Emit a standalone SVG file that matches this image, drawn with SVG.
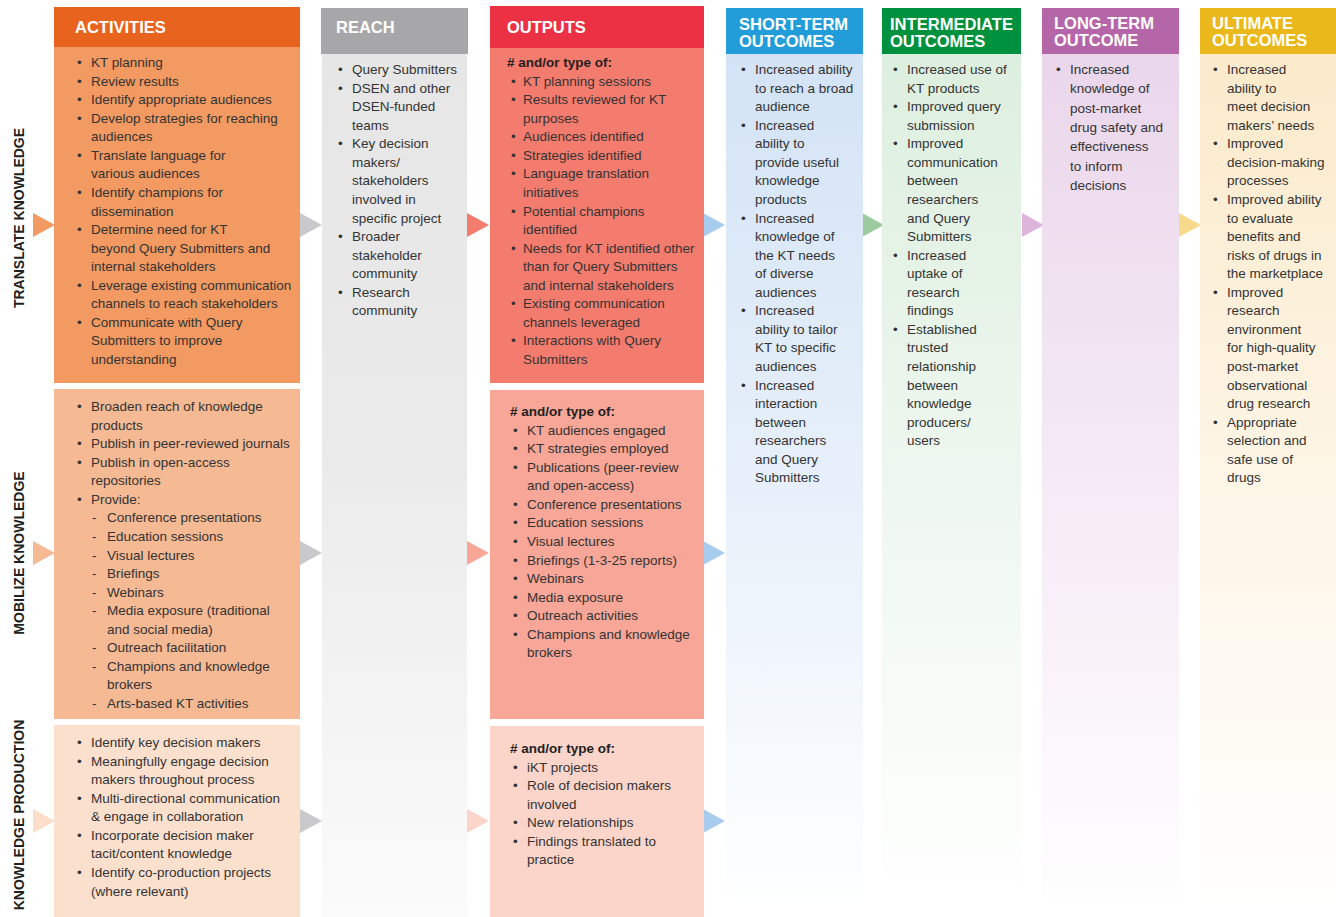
<svg xmlns="http://www.w3.org/2000/svg" width="1336" height="917" viewBox="0 0 1336 917">
<defs>
<style>
.hd{font-family:"Liberation Sans",Arial,sans-serif;font-weight:bold;font-size:16.5px;fill:#fff}
.t{font-family:"Liberation Sans",Arial,sans-serif;font-size:13.5px;fill:#333}
.b{font-family:"Liberation Sans",Arial,sans-serif;font-size:13.5px;font-weight:bold;fill:#231f20}
.rl{font-family:"Liberation Sans",Arial,sans-serif;font-size:14px;font-weight:bold;fill:#231f20}
</style>
<linearGradient id="gReach" x1="0" y1="0" x2="0" y2="1"><stop offset="0" stop-color="#E6E6E6"/><stop offset="0.45" stop-color="#EAEAEA"/><stop offset="1" stop-color="#FBFBFB"/></linearGradient>
<linearGradient id="gBlue" x1="0" y1="0" x2="0" y2="1"><stop offset="0" stop-color="#D3E3F5"/><stop offset="0.5" stop-color="#E7F0FA"/><stop offset="1" stop-color="#FFFFFF"/></linearGradient>
<linearGradient id="gGreen" x1="0" y1="0" x2="0" y2="1"><stop offset="0" stop-color="#DDEFDF"/><stop offset="0.5" stop-color="#EEF7EF"/><stop offset="1" stop-color="#FFFFFF"/></linearGradient>
<linearGradient id="gPurple" x1="0" y1="0" x2="0" y2="1"><stop offset="0" stop-color="#EAD6EB"/><stop offset="0.5" stop-color="#F5EAF5"/><stop offset="1" stop-color="#FFFFFF"/></linearGradient>
<linearGradient id="gYellow" x1="0" y1="0" x2="0" y2="1"><stop offset="0" stop-color="#FBEACB"/><stop offset="0.5" stop-color="#FDF5E6"/><stop offset="1" stop-color="#FFFFFF"/></linearGradient>
</defs>
<rect width="1336" height="917" fill="#fff"/>

<g id="row-labels">
<text class="rl" transform="translate(24,218) rotate(-90)" text-anchor="middle">TRANSLATE KNOWLEDGE</text>
<text class="rl" transform="translate(24,553) rotate(-90)" text-anchor="middle">MOBILIZE KNOWLEDGE</text>
<text class="rl" transform="translate(24,815) rotate(-90)" text-anchor="middle">KNOWLEDGE PRODUCTION</text>
</g>

<g id="connectors">
<polygon points="33,213 55,225 33,237" fill="#F29A61"/>
<polygon points="33,541 55,553 33,565" fill="#F5B993"/>
<polygon points="33,809 55,821 33,833" fill="#FBDDC9"/>
<polygon points="300,213 322,225 300,237" fill="#C9C9CB"/>
<polygon points="300,541 322,553 300,565" fill="#C9C9CB"/>
<polygon points="300,809 322,821 300,833" fill="#C9C9CB"/>
<polygon points="467,213 489,225 467,237" fill="#F47C6E"/>
<polygon points="467,541 489,553 467,565" fill="#F7A697"/>
<polygon points="467,809 489,821 467,833" fill="#FBD4CA"/>
<polygon points="703,213 725,225 703,237" fill="#A8CCEE"/>
<polygon points="703,541 725,553 703,565" fill="#A8CCEE"/>
<polygon points="703,809 725,821 703,833" fill="#A8CCEE"/>
<polygon points="862,213 884,225 862,237" fill="#9DCB9F"/>
<polygon points="1022,213 1044,225 1022,237" fill="#DDB5DC"/>
<polygon points="1179,213 1201,225 1179,237" fill="#F7DA8C"/>
</g>

<g id="activities">
<rect x="54" y="7" width="246" height="40" fill="#E8641E"/>
<text class="hd" x="75" y="33">ACTIVITIES</text>
</g>

<g id="activities-translate">
<rect x="54" y="47" width="246" height="336" fill="#F29A61"/>
<text class="t">
<tspan x="77" y="67">•</tspan><tspan x="91" y="67">KT planning</tspan>
<tspan x="77" y="85.6">•</tspan><tspan x="91" y="85.6">Review results</tspan>
<tspan x="77" y="104.1">•</tspan><tspan x="91" y="104.1">Identify appropriate audiences</tspan>
<tspan x="77" y="122.7">•</tspan><tspan x="91" y="122.7">Develop strategies for reaching</tspan>
<tspan x="91" y="141.2">audiences</tspan>
<tspan x="77" y="159.8">•</tspan><tspan x="91" y="159.8">Translate language for</tspan>
<tspan x="91" y="178.4">various audiences</tspan>
<tspan x="77" y="196.9">•</tspan><tspan x="91" y="196.9">Identify champions for</tspan>
<tspan x="91" y="215.5">dissemination</tspan>
<tspan x="77" y="234">•</tspan><tspan x="91" y="234">Determine need for KT</tspan>
<tspan x="91" y="252.6">beyond Query Submitters and</tspan>
<tspan x="91" y="271.2">internal stakeholders</tspan>
<tspan x="77" y="289.7">•</tspan><tspan x="91" y="289.7">Leverage existing communication</tspan>
<tspan x="91" y="308.3">channels to reach stakeholders</tspan>
<tspan x="77" y="326.8">•</tspan><tspan x="91" y="326.8">Communicate with Query</tspan>
<tspan x="91" y="345.4">Submitters to improve</tspan>
<tspan x="91" y="364">understanding</tspan>
</text>
</g>

<g id="activities-mobilize">
<rect x="54" y="389" width="246" height="330" fill="#F5B993"/>
<text class="t">
<tspan x="77" y="411">•</tspan><tspan x="91" y="411">Broaden reach of knowledge</tspan>
<tspan x="91" y="429.6">products</tspan>
<tspan x="77" y="448.1">•</tspan><tspan x="91" y="448.1">Publish in peer-reviewed journals</tspan>
<tspan x="77" y="466.7">•</tspan><tspan x="91" y="466.7">Publish in open-access</tspan>
<tspan x="91" y="485.2">repositories</tspan>
<tspan x="77" y="503.8">•</tspan><tspan x="91" y="503.8">Provide:</tspan>
<tspan x="92" y="522.4">-</tspan><tspan x="107" y="522.4">Conference presentations</tspan>
<tspan x="92" y="540.9">-</tspan><tspan x="107" y="540.9">Education sessions</tspan>
<tspan x="92" y="559.5">-</tspan><tspan x="107" y="559.5">Visual lectures</tspan>
<tspan x="92" y="578">-</tspan><tspan x="107" y="578">Briefings</tspan>
<tspan x="92" y="596.6">-</tspan><tspan x="107" y="596.6">Webinars</tspan>
<tspan x="92" y="615.2">-</tspan><tspan x="107" y="615.2">Media exposure (traditional</tspan>
<tspan x="107" y="633.7">and social media)</tspan>
<tspan x="92" y="652.3">-</tspan><tspan x="107" y="652.3">Outreach facilitation</tspan>
<tspan x="92" y="670.8">-</tspan><tspan x="107" y="670.8">Champions and knowledge</tspan>
<tspan x="107" y="689.4">brokers</tspan>
<tspan x="92" y="708">-</tspan><tspan x="107" y="708">Arts-based KT activities</tspan>
</text>
</g>

<g id="activities-production">
<rect x="54" y="725" width="246" height="192" fill="#FCE0CE"/>
<text class="t">
<tspan x="77" y="747">•</tspan><tspan x="91" y="747">Identify key decision makers</tspan>
<tspan x="77" y="765.6">•</tspan><tspan x="91" y="765.6">Meaningfully engage decision</tspan>
<tspan x="91" y="784.1">makers throughout process</tspan>
<tspan x="77" y="802.7">•</tspan><tspan x="91" y="802.7">Multi-directional communication</tspan>
<tspan x="91" y="821.2">&amp; engage in collaboration</tspan>
<tspan x="77" y="839.8">•</tspan><tspan x="91" y="839.8">Incorporate decision maker</tspan>
<tspan x="91" y="858.4">tacit/content knowledge</tspan>
<tspan x="77" y="876.9">•</tspan><tspan x="91" y="876.9">Identify co-production projects</tspan>
<tspan x="91" y="895.5">(where relevant)</tspan>
</text>
</g>

<g id="reach">
<rect x="322" y="54" width="145" height="863" fill="url(#gReach)"/>
<rect x="321" y="8" width="147" height="46" fill="#A7A7A9"/>
<text class="hd" x="336" y="33">REACH</text>
<text class="t">
<tspan x="338" y="74">•</tspan><tspan x="352" y="74">Query Submitters</tspan>
<tspan x="338" y="92.6">•</tspan><tspan x="352" y="92.6">DSEN and other</tspan>
<tspan x="352" y="111.1">DSEN-funded</tspan>
<tspan x="352" y="129.7">teams</tspan>
<tspan x="338" y="148.2">•</tspan><tspan x="352" y="148.2">Key decision</tspan>
<tspan x="352" y="166.8">makers/</tspan>
<tspan x="352" y="185.4">stakeholders</tspan>
<tspan x="352" y="203.9">involved in</tspan>
<tspan x="352" y="222.5">specific project</tspan>
<tspan x="338" y="241">•</tspan><tspan x="352" y="241">Broader</tspan>
<tspan x="352" y="259.6">stakeholder</tspan>
<tspan x="352" y="278.2">community</tspan>
<tspan x="338" y="296.7">•</tspan><tspan x="352" y="296.7">Research</tspan>
<tspan x="352" y="315.3">community</tspan>
</text>
</g>

<g id="outputs">
<rect x="490" y="6" width="214" height="42" fill="#EC3145"/>
<text class="hd" x="507" y="33">OUTPUTS</text>
</g>

<g id="outputs-translate">
<rect x="490" y="48" width="214" height="335" fill="#F47C6E"/>
<text class="b" x="507" y="67"># and/or type of:</text>
<text class="t">
<tspan x="511" y="85.6">•</tspan><tspan x="523" y="85.6">KT planning sessions</tspan>
<tspan x="511" y="104.1">•</tspan><tspan x="523" y="104.1">Results reviewed for KT</tspan>
<tspan x="523" y="122.7">purposes</tspan>
<tspan x="511" y="141.2">•</tspan><tspan x="523" y="141.2">Audiences identified</tspan>
<tspan x="511" y="159.8">•</tspan><tspan x="523" y="159.8">Strategies identified</tspan>
<tspan x="511" y="178.4">•</tspan><tspan x="523" y="178.4">Language translation</tspan>
<tspan x="523" y="196.9">initiatives</tspan>
<tspan x="511" y="215.5">•</tspan><tspan x="523" y="215.5">Potential champions</tspan>
<tspan x="523" y="234">identified</tspan>
<tspan x="511" y="252.6">•</tspan><tspan x="523" y="252.6">Needs for KT identified other</tspan>
<tspan x="523" y="271.2">than for Query Submitters</tspan>
<tspan x="523" y="289.7">and internal stakeholders</tspan>
<tspan x="511" y="308.3">•</tspan><tspan x="523" y="308.3">Existing communication</tspan>
<tspan x="523" y="326.8">channels leveraged</tspan>
<tspan x="511" y="345.4">•</tspan><tspan x="523" y="345.4">Interactions with Query</tspan>
<tspan x="523" y="364">Submitters</tspan>
</text>
</g>

<g id="outputs-mobilize">
<rect x="490" y="390" width="214" height="329" fill="#F7A697"/>
<text class="b" x="510" y="416"># and/or type of:</text>
<text class="t">
<tspan x="513" y="434.6">•</tspan><tspan x="527" y="434.6">KT audiences engaged</tspan>
<tspan x="513" y="453.1">•</tspan><tspan x="527" y="453.1">KT strategies employed</tspan>
<tspan x="513" y="471.7">•</tspan><tspan x="527" y="471.7">Publications (peer-review</tspan>
<tspan x="527" y="490.2">and open-access)</tspan>
<tspan x="513" y="508.8">•</tspan><tspan x="527" y="508.8">Conference presentations</tspan>
<tspan x="513" y="527.4">•</tspan><tspan x="527" y="527.4">Education sessions</tspan>
<tspan x="513" y="545.9">•</tspan><tspan x="527" y="545.9">Visual lectures</tspan>
<tspan x="513" y="564.5">•</tspan><tspan x="527" y="564.5">Briefings (1-3-25 reports)</tspan>
<tspan x="513" y="583">•</tspan><tspan x="527" y="583">Webinars</tspan>
<tspan x="513" y="601.6">•</tspan><tspan x="527" y="601.6">Media exposure</tspan>
<tspan x="513" y="620.2">•</tspan><tspan x="527" y="620.2">Outreach activities</tspan>
<tspan x="513" y="638.7">•</tspan><tspan x="527" y="638.7">Champions and knowledge</tspan>
<tspan x="527" y="657.3">brokers</tspan>
</text>
</g>

<g id="outputs-production">
<rect x="490" y="726" width="214" height="191" fill="#FBD4CA"/>
<text class="b" x="510" y="753"># and/or type of:</text>
<text class="t">
<tspan x="513" y="771.6">•</tspan><tspan x="527" y="771.6">iKT projects</tspan>
<tspan x="513" y="790.1">•</tspan><tspan x="527" y="790.1">Role of decision makers</tspan>
<tspan x="527" y="808.7">involved</tspan>
<tspan x="513" y="827.2">•</tspan><tspan x="527" y="827.2">New relationships</tspan>
<tspan x="513" y="845.8">•</tspan><tspan x="527" y="845.8">Findings translated to</tspan>
<tspan x="527" y="864.4">practice</tspan>
</text>
</g>

<g id="short-term">
<rect x="726" y="54" width="137" height="863" fill="url(#gBlue)"/>
<rect x="726" y="8" width="137" height="46" fill="#229DD9"/>
<text class="hd"><tspan x="739" y="30">SHORT-TERM</tspan><tspan x="739" y="47">OUTCOMES</tspan></text>
<text class="t">
<tspan x="741" y="74">•</tspan><tspan x="755" y="74">Increased ability</tspan>
<tspan x="755" y="92.6">to reach a broad</tspan>
<tspan x="755" y="111.1">audience</tspan>
<tspan x="741" y="129.7">•</tspan><tspan x="755" y="129.7">Increased</tspan>
<tspan x="755" y="148.2">ability to</tspan>
<tspan x="755" y="166.8">provide useful</tspan>
<tspan x="755" y="185.4">knowledge</tspan>
<tspan x="755" y="203.9">products</tspan>
<tspan x="741" y="222.5">•</tspan><tspan x="755" y="222.5">Increased</tspan>
<tspan x="755" y="241">knowledge of</tspan>
<tspan x="755" y="259.6">the KT needs</tspan>
<tspan x="755" y="278.2">of diverse</tspan>
<tspan x="755" y="296.7">audiences</tspan>
<tspan x="741" y="315.3">•</tspan><tspan x="755" y="315.3">Increased</tspan>
<tspan x="755" y="333.8">ability to tailor</tspan>
<tspan x="755" y="352.4">KT to specific</tspan>
<tspan x="755" y="371">audiences</tspan>
<tspan x="741" y="389.5">•</tspan><tspan x="755" y="389.5">Increased</tspan>
<tspan x="755" y="408.1">interaction</tspan>
<tspan x="755" y="426.6">between</tspan>
<tspan x="755" y="445.2">researchers</tspan>
<tspan x="755" y="463.8">and Query</tspan>
<tspan x="755" y="482.3">Submitters</tspan>
</text>
</g>

<g id="intermediate">
<rect x="882" y="54" width="139" height="863" fill="url(#gGreen)"/>
<rect x="882" y="8" width="139" height="46" fill="#00913F"/>
<text class="hd"><tspan x="890" y="30" textLength="123" lengthAdjust="spacingAndGlyphs">INTERMEDIATE</tspan><tspan x="890" y="47">OUTCOMES</tspan></text>
<text class="t">
<tspan x="893" y="74">•</tspan><tspan x="907" y="74">Increased use of</tspan>
<tspan x="907" y="92.6">KT products</tspan>
<tspan x="893" y="111.1">•</tspan><tspan x="907" y="111.1">Improved query</tspan>
<tspan x="907" y="129.7">submission</tspan>
<tspan x="893" y="148.2">•</tspan><tspan x="907" y="148.2">Improved</tspan>
<tspan x="907" y="166.8">communication</tspan>
<tspan x="907" y="185.4">between</tspan>
<tspan x="907" y="203.9">researchers</tspan>
<tspan x="907" y="222.5">and Query</tspan>
<tspan x="907" y="241">Submitters</tspan>
<tspan x="893" y="259.6">•</tspan><tspan x="907" y="259.6">Increased</tspan>
<tspan x="907" y="278.2">uptake of</tspan>
<tspan x="907" y="296.7">research</tspan>
<tspan x="907" y="315.3">findings</tspan>
<tspan x="893" y="333.8">•</tspan><tspan x="907" y="333.8">Established</tspan>
<tspan x="907" y="352.4">trusted</tspan>
<tspan x="907" y="371">relationship</tspan>
<tspan x="907" y="389.5">between</tspan>
<tspan x="907" y="408.1">knowledge</tspan>
<tspan x="907" y="426.6">producers/</tspan>
<tspan x="907" y="445.2">users</tspan>
</text>
</g>

<g id="long-term">
<rect x="1042" y="54" width="137" height="863" fill="url(#gPurple)"/>
<rect x="1042" y="8" width="137" height="46" fill="#B566A8"/>
<text class="hd"><tspan x="1054" y="29">LONG-TERM</tspan><tspan x="1054" y="46">OUTCOME</tspan></text>
<text class="t">
<tspan x="1056" y="74">•</tspan><tspan x="1070" y="74">Increased</tspan>
<tspan x="1070" y="93.3">knowledge of</tspan>
<tspan x="1070" y="112.7">post-market</tspan>
<tspan x="1070" y="132">drug safety and</tspan>
<tspan x="1070" y="151.3">effectiveness</tspan>
<tspan x="1070" y="170.7">to inform</tspan>
<tspan x="1070" y="190">decisions</tspan>
</text>
</g>

<g id="ultimate">
<rect x="1200" y="54" width="136" height="863" fill="url(#gYellow)"/>
<rect x="1200" y="8" width="136" height="46" fill="#EBB81B"/>
<text class="hd"><tspan x="1212" y="29">ULTIMATE</tspan><tspan x="1212" y="46">OUTCOMES</tspan></text>
<text class="t">
<tspan x="1213" y="74">•</tspan><tspan x="1227" y="74">Increased</tspan>
<tspan x="1227" y="92.6">ability to</tspan>
<tspan x="1227" y="111.1">meet decision</tspan>
<tspan x="1227" y="129.7">makers’ needs</tspan>
<tspan x="1213" y="148.2">•</tspan><tspan x="1227" y="148.2">Improved</tspan>
<tspan x="1227" y="166.8">decision-making</tspan>
<tspan x="1227" y="185.4">processes</tspan>
<tspan x="1213" y="203.9">•</tspan><tspan x="1227" y="203.9">Improved ability</tspan>
<tspan x="1227" y="222.5">to evaluate</tspan>
<tspan x="1227" y="241">benefits and</tspan>
<tspan x="1227" y="259.6">risks of drugs in</tspan>
<tspan x="1227" y="278.2">the marketplace</tspan>
<tspan x="1213" y="296.7">•</tspan><tspan x="1227" y="296.7">Improved</tspan>
<tspan x="1227" y="315.3">research</tspan>
<tspan x="1227" y="333.8">environment</tspan>
<tspan x="1227" y="352.4">for high-quality</tspan>
<tspan x="1227" y="371">post-market</tspan>
<tspan x="1227" y="389.5">observational</tspan>
<tspan x="1227" y="408.1">drug research</tspan>
<tspan x="1213" y="426.6">•</tspan><tspan x="1227" y="426.6">Appropriate</tspan>
<tspan x="1227" y="445.2">selection and</tspan>
<tspan x="1227" y="463.8">safe use of</tspan>
<tspan x="1227" y="482.3">drugs</tspan>
</text>
</g>
</svg>
